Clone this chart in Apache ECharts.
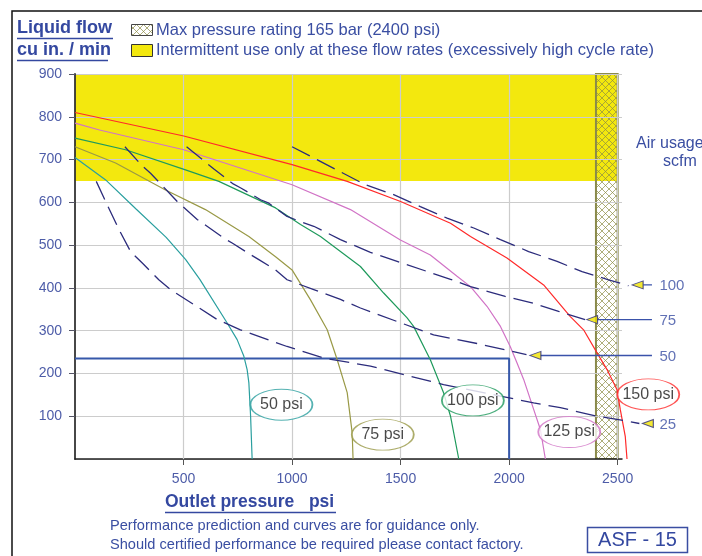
<!DOCTYPE html>
<html><head><meta charset="utf-8">
<script src="https://cdn.jsdelivr.net/npm/echarts/dist/echarts.min.js"></script>
<style>html,body{margin:0;padding:0;background:#fff;overflow:hidden}#c{width:702px;height:556px}</style>
</head><body><div id="c"></div>
<script>
// ---- data (outlet pressure psi, liquid flow cu in/min) ----
const xTickValues = [500, 1000, 1500, 2000, 2500];
const yTickValues = [100, 200, 300, 400, 500, 600, 700, 800, 900];
const intermittentFlow = [650, 900];
const intermittentPressure = [0, 2500];
const maxPressureBand = [2400, 2500];
const pressureNames = ['50 psi', '75 psi', '100 psi', '125 psi', '150 psi'];
const p50 = [[0,705],[140,653],[280,585],[420,518],[510,466],[575,420],[701,318],[747,279],[778,240],[793,209],[801,178],[809,100],[816,0]];
const p75 = [[0,730],[187,692],[417,629],[601,583],[801,520],[924,473],[1000,442],[1085,372],[1162,302],[1208,232],[1254,155],[1277,61],[1281,0]];
const p100 = [[0,750],[233,723],[509,676],[663,649],[924,587],[1039,548],[1131,520],[1315,450],[1422,388],[1530,330],[1560,310],[1637,232],[1698,155],[1730,100],[1768,0]];
const p125 = [[0,785],[113,769],[501,723],[1000,641],[1269,583],[1499,512],[1637,477],[1760,427],[1822,403],[1898,357],[1960,310],[2005,263],[2036,225],[2067,186],[2113,116],[2144,69],[2167,0]];
const p150 = [[0,810],[501,755],[1000,688],[1254,649],[1500,602],[1730,551],[1822,520],[1990,470],[2159,407],[2282,333],[2343,302],[2405,248],[2451,209],[2497,162],[2512,116],[2535,53],[2543,0]];
const pressureLabelPos = [[951,127],[1418,57],[1833,137],[2277,63],[2641,151]];
const airNames = ['100', '75', '50', '25'];
const air100 = [[1000,730],[1338,641],[1468,618],[1591,590],[1714,563],[1837,540],[1960,513],[2090,485],[2221,462],[2336,438],[2458,419],[2550,405]];
const air75 = [[514,730],[606,692],[640,678],[729,643],[766,633],[855,606],[893,598],[977,567],[1039,555],[1100,544],[1223,513],[1361,483],[1484,462],[1730,420],[1822,403],[1982,380],[2105,365],[2228,345],[2350,326]];
const air50 = [[230,730],[310,685],[348,668],[432,623],[471,602],[563,560],[598,548],[686,516],[724,505],[808,478],[847,466],[924,442],[977,419],[1100,396],[1223,373],[1315,353],[1652,290],[1852,270],[2080,244]];
const air25 = [[98,649],[141,602],[202,537],[256,485],[310,458],[386,419],[440,396],[655,326],[762,302],[977,263],[1146,236],[1361,217],[1698,174],[1960,147],[2113,131],[2236,120],[2405,100],[2526,90],[2600,83]];
const airArrows = [[2592,407],[2382,326],[2121,242],[2639,83]];
const airLeaders = [[[2618,407],[2658,407]], [[2406,326],[2658,326]], [[2144,242],[2658,242]]];
const airLabelPos = [[2692,404],[2692,323],[2692,239],[2692,79]];
const exampleBox = [[0,235],[2000,235],[2000,0]];

// ---- layout / styles ----
const G = { left: 75, right: 80, top: 74, bottom: 97 };
const X_MAX = 2520, Y_MAX = 900;
// a second, hidden pair of axes with the same scale, stretched to the page edge,
// so marks that run past the plot's right edge (as in the original) are not cut off
const X_MAX_WIDE = X_MAX * (702 - G.left) / (702 - G.left - G.right);
const FONT = '"Liberation Sans", Arial, sans-serif';
const BLUE_TXT = '#3a4ea2';
const AX_TXT = '#4d5ca8';
const NAVY = '#2c2c7c';
const pressureColors = ['#2a9f9f', '#999946', '#1f9a5c', '#d173c6', '#ff2a2a'];
const YELLOW = '#f3e80e';

function makeHatch() {
  const c = document.createElement('canvas');
  c.width = 7; c.height = 7;
  const g = c.getContext('2d');
  g.strokeStyle = '#8c8c44'; g.lineWidth = 0.7;
  g.beginPath(); g.moveTo(0,0); g.lineTo(7,7); g.moveTo(7,0); g.lineTo(0,7); g.stroke();
  return c;
}
const hatch = { image: makeHatch(), repeat: 'repeat' };

const chart = echarts.init(document.getElementById('c'), null, { renderer: 'canvas' });

const W = { xAxisIndex: 1, yAxisIndex: 1 };
const series = [];
// areas + vertical grid lines
series.push({
  type: 'line', data: [], silent: true,
  markArea: {
    silent: true, z: 1,
    data: [
      [{ xAxis: intermittentPressure[0], yAxis: intermittentFlow[0], itemStyle: { color: YELLOW } }, { xAxis: intermittentPressure[1], yAxis: intermittentFlow[1] }],
      [{ xAxis: maxPressureBand[0], yAxis: 0, itemStyle: { color: hatch, borderColor: '#8a8a4a', borderWidth: 2 } }, { xAxis: maxPressureBand[1], yAxis: Y_MAX }]
    ]
  },
  markLine: {
    silent: true, z: 1.6, symbol: ['none', 'none'], label: { show: false }, animation: false,
    lineStyle: { color: '#cccccc', width: 1.2, type: 'solid' },
    data: xTickValues.map(v => ({ xAxis: v }))
  }
});
// example blue box
series.push({ type: 'line', data: exampleBox, showSymbol: false, silent: true, z: 2,
  lineStyle: { color: '#3658aa', width: 2 } });
// pressure curves
[p50, p75, p100, p125, p150].forEach((d, i) => {
  series.push(Object.assign({ type: 'line', data: d, showSymbol: false, silent: true, z: 3,
    lineStyle: { color: pressureColors[i], width: 1.2 } }, W));
});
// air usage dashed
[air100, air75, air50, air25].forEach(d => {
  series.push(Object.assign({ type: 'line', data: d, showSymbol: false, silent: true, z: 3,
    lineStyle: { color: NAVY, width: 1.3, type: [20, 8] } }, W));
});
airLeaders.forEach(d => {
  series.push(Object.assign({ type: 'line', data: d, showSymbol: false, silent: true, z: 3,
    lineStyle: { color: '#3a52aa', width: 1.3 } }, W));
});
series.push(Object.assign({ type: 'scatter', data: airArrows, silent: true, z: 5,
  symbol: 'triangle', symbolRotate: 90, symbolSize: [8, 11],
  itemStyle: { color: '#f0e400', borderColor: NAVY, borderWidth: 1 } }, W));
series.push(Object.assign({ type: 'scatter', silent: true, z: 5, symbolSize: 0.1,
  data: airLabelPos.map((p, i) => ({ value: p, name: airNames[i] })),
  itemStyle: { color: 'rgba(0,0,0,0)' },
  label: { show: true, position: 'right', distance: 0, formatter: '{b}', color: BLUE_TXT, fontSize: 15, fontFamily: FONT } }, W));
// pressure bubbles
series.push(Object.assign({ type: 'scatter', silent: true, z: 6,
  symbol: 'path://M0,50 A50,50 0 1,1 100,50 A50,50 0 1,1 0,50 Z', symbolSize: [62, 31],
  data: pressureLabelPos.map((p, i) => ({ value: p, name: pressureNames[i], itemStyle: { borderColor: pressureColors[i] } })),
  itemStyle: { color: '#fff', borderWidth: 1.3 },
  label: { show: true, position: 'inside', formatter: '{b}', color: '#1a1a1a', fontSize: 16, fontFamily: FONT } }, W));

const txt = (text, x, y, size, opts) => Object.assign({ type: 'text', x: x, y: y, z: 10, silent: true,
  style: Object.assign({ text: text, fill: BLUE_TXT, fontSize: size, fontFamily: FONT, verticalAlign: 'middle' }, (opts || {}).style || {}) }, (opts || {}).el || {});
const ln = (x1, y1, x2, y2, color, w) => ({ type: 'line', z: 10, silent: true, shape: { x1, y1, x2, y2 }, style: { stroke: color, lineWidth: w } });

chart.setOption({
  animation: false,
  grid: [Object.assign({ containLabel: false }, G), { left: G.left, right: 0, top: G.top, bottom: G.bottom, containLabel: false }],
  xAxis: [{
    type: 'value', min: 0, max: X_MAX, interval: 500, z: 1.5,
    axisLine: { show: true, lineStyle: { color: '#222', width: 1.5 } },
    axisTick: { show: true, length: 6, lineStyle: { color: '#555' } },
    axisLabel: { showMinLabel: false, showMaxLabel: false, color: AX_TXT, fontSize: 14, fontFamily: FONT, margin: 13,
      formatter: v => String(v) },
    splitLine: { show: false }
  }, { gridIndex: 1, type: 'value', min: 0, max: X_MAX_WIDE, show: false }],
  yAxis: [{
    type: 'value', min: 0, max: Y_MAX, interval: 100, z: 1.5,
    axisLine: { show: true, lineStyle: { color: '#333', width: 1.8 } },
    axisTick: { show: true, length: 6, lineStyle: { color: '#556' } },
    axisLabel: { showMinLabel: false, color: AX_TXT, fontSize: 14, fontFamily: FONT, margin: 13, formatter: v => String(v) },
    splitLine: { show: true, lineStyle: { color: '#cccccc', width: 1.2 } }
  }, { gridIndex: 1, type: 'value', min: 0, max: Y_MAX, show: false }],
  series: series,
  graphic: [
    { type: 'rect', z: 0, silent: true, shape: { x: 12, y: 11, width: 740, height: 600 }, style: { fill: 'transparent', stroke: '#111', lineWidth: 1.5 } },
    txt('Liquid flow', 17, 28, 18, { style: { fontWeight: 'bold', fill: '#3448a0' } }),
    ln(17, 38.5, 113, 38.5, '#3448a0', 1.5),
    txt('cu in. / min', 17, 50, 18, { style: { fontWeight: 'bold', fill: '#3448a0' } }),
    ln(17, 60.5, 108, 60.5, '#3448a0', 1.5),
    { type: 'rect', z: 10, silent: true, shape: { x: 131.5, y: 24.5, width: 21, height: 11 }, style: { fill: hatch, stroke: '#444', lineWidth: 1 } },
    txt('Max pressure rating 165 bar (2400 psi)', 156, 30, 16.5),
    { type: 'rect', z: 10, silent: true, shape: { x: 131.5, y: 44.5, width: 21, height: 12 }, style: { fill: YELLOW, stroke: '#333', lineWidth: 1 } },
    txt('Intermittent use only at these flow rates (excessively high cycle rate)', 156, 50, 16.5),
    txt('Air usage', 636, 144, 16),
    txt('scfm', 663, 162, 16),
    txt('Outlet pressure   psi', 165, 502, 17.5, { style: { fontWeight: 'bold', fill: '#3448a0' } }),
    ln(165, 512.5, 336, 512.5, '#3448a0', 1.5),
    txt('Performance prediction and curves are for guidance only.', 110, 526, 14.6),
    txt('Should certified performance be required please contact factory.', 110, 545, 14.6),
    { type: 'rect', z: 10, silent: true, shape: { x: 587.5, y: 527.5, width: 100, height: 25 }, style: { fill: '#fff', stroke: '#3a4ea2', lineWidth: 1.5 } },
    txt('ASF - 15', 637.5, 540.5, 20, { style: { align: 'center', fill: '#3448a0' } })
  ]
});
</script></body></html>
